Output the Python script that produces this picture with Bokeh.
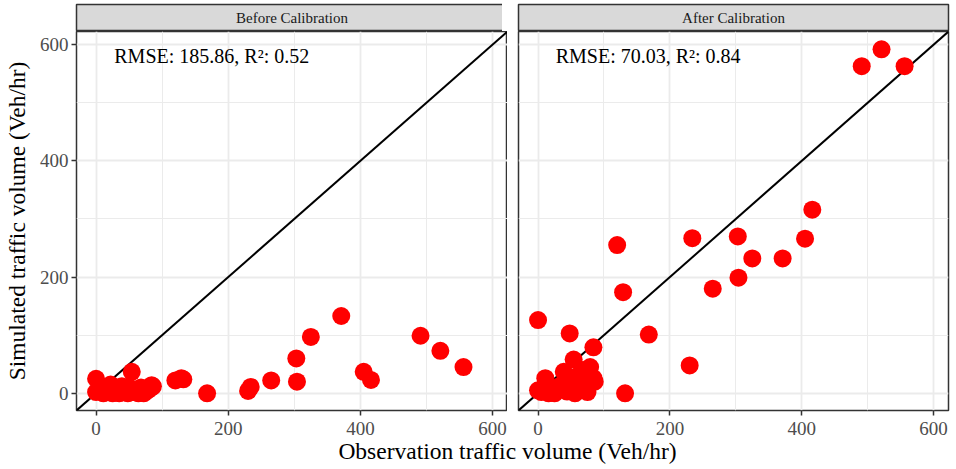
from bokeh.plotting import figure
from bokeh.models import Range1d, FixedTicker
from bokeh.layouts import column, row
from bokeh.embed import file_html
from bokeh.resources import INLINE
from bokeh.core.properties import value

# ---- data ----
obs = [0, 0, 5, 11, 16, 22, 25, 30, 35, 39, 44, 48, 50, 54, 56, 60, 64, 68, 72, 75,
       79, 84, 84, 86, 120, 129, 132, 168, 230, 234, 265, 303, 304, 325, 371, 405,
       416, 491, 521, 556]
sim_before = [25, 2, 8, 0, 5, 15, 0, 3, 0, 12, 5, 0, 10, 37, 2, 6, 0, 10, 0, 3,
              6, 10, 14, 12, 22, 26, 24, 0, 4, 11, 22, 60, 20, 97, 133, 37,
              23, 99, 73, 45]
sim_after = [126, 5, 2, 26, 0, 6, 0, 10, 14, 37, 3, 103, 18, 58, 0, 30, 22, 40, 8, 2,
             45, 26, 79, 20, 255, 174, 0, 101, 48, 267, 180, 270, 199, 232, 232, 266,
             316, 563, 592, 563]
panel_titles = ["Before Calibration", "After Calibration"]
metrics = ["RMSE: 185.86, R\u00b2: 0.52", "RMSE: 70.03, R\u00b2: 0.84"]
metric_x = [175, 167]
metric_y = [581, 581]
major_ticks = [0, 200, 400, 600]
minor_ticks = [100, 300, 500]
lim = [-29.65, 622.6]
x_title = "Observation traffic volume (Veh/hr)"
y_title = "Simulated traffic volume (Veh/hr)"

FONT = "Liberation Serif"
BORDER = "#333333"
GRID = "#EBEBEB"
STRIP_TOP = 4
STRIP_H = 27
FRAME_H = 379
BOTTOM = 24
TITLE_H = 32


def make_strip(title, frame_w, mbl, mbr):
    s = figure(frame_width=frame_w, frame_height=STRIP_H, x_range=Range1d(0, 1), y_range=Range1d(0, 1),
               min_border_left=mbl, min_border_right=mbr, min_border_top=STRIP_TOP, min_border_bottom=0,
               x_axis_location=None, y_axis_location=None, toolbar_location=None,
               output_backend="svg", background_fill_color="#D9D9D9", border_fill_color="white",
               outline_line_color=BORDER, outline_line_width=1.5)
    s.xgrid.visible = False
    s.ygrid.visible = False
    s.text(x=[0.5], y=[0.5], text=[title], text_font=value(FONT), text_font_size=value("15px"),
           text_color="#1A1A1A", text_align="center", text_baseline="middle")
    return s


def make_panel(sim, idx, frame_w, mbl, mbr, left):
    p = figure(frame_width=frame_w, frame_height=FRAME_H,
               x_range=Range1d(lim[0], lim[1]), y_range=Range1d(lim[0], lim[1]),
               min_border_left=mbl, min_border_right=mbr, min_border_top=0, min_border_bottom=BOTTOM,
               y_axis_location="left" if left else None, toolbar_location=None,
               output_backend="svg", background_fill_color="white", border_fill_color="white",
               outline_line_color=BORDER, outline_line_width=1.5)
    for g in (p.xgrid[0], p.ygrid[0]):
        g.ticker = FixedTicker(ticks=major_ticks, minor_ticks=minor_ticks)
        g.grid_line_color = GRID
        g.grid_line_width = 1.8
        g.minor_grid_line_color = GRID
        g.minor_grid_line_width = 1.0
    axes = [p.xaxis[0]] + ([p.yaxis[0]] if left else [])
    for ax in axes:
        ax.ticker = FixedTicker(ticks=major_ticks, minor_ticks=minor_ticks)
        ax.axis_line_color = None
        ax.major_tick_out = 5
        ax.major_tick_in = 0
        ax.minor_tick_out = 0
        ax.minor_tick_in = 0
        ax.major_tick_line_color = BORDER
        ax.major_tick_line_width = 1.5
        ax.major_label_text_font = FONT
        ax.major_label_text_font_size = "19px"
        ax.major_label_text_color = "#4D4D4D"
    p.xaxis[0].major_label_standoff = 6
    if left:
        ax = p.yaxis[0]
        ax.major_label_standoff = 3
        ax.axis_label = y_title
        ax.axis_label_text_font = FONT
        ax.axis_label_text_font_size = "23.5px"
        ax.axis_label_text_font_style = "normal"
        ax.axis_label_text_color = "black"
        ax.axis_label_standoff = 7
    p.line(x=lim, y=lim, line_color="black", line_width=2)
    p.scatter(x=obs, y=sim, size=18, fill_color="#FF0000", line_color=None)
    p.text(x=[metric_x[idx]], y=[metric_y[idx]], text=[metrics[idx]], text_font=value(FONT),
           text_font_size=value("20px"), text_color="black", text_align="center",
           text_baseline="middle")
    return p


LW, RW = 431, 430
s1 = make_strip(panel_titles[0], LW, 71, 0)
p1 = make_panel(sim_before, 0, LW, 71, 0, True)
s2 = make_strip(panel_titles[1], RW, 11, 2)
p2 = make_panel(sim_after, 1, RW, 11, 2, False)

TW = 71 + LW + 11 + RW + 2
t = figure(width=TW, height=TITLE_H, x_range=Range1d(0, TW), y_range=Range1d(0, TITLE_H),
           min_border_left=0, min_border_right=0, min_border_top=0, min_border_bottom=0,
           x_axis_location=None, y_axis_location=None, toolbar_location=None,
           output_backend="svg", outline_line_color=None, background_fill_color="white",
           border_fill_color="white")
t.xgrid.visible = False
t.ygrid.visible = False
t.text(x=[507], y=[19], text=[x_title], text_font=value(FONT), text_font_size=value("23.5px"),
       text_color="black", text_align="center", text_baseline="middle")

layout = column(row(column(s1, p1), column(s2, p2)), t)
open("out.html", "w").write(file_html(layout, INLINE))
